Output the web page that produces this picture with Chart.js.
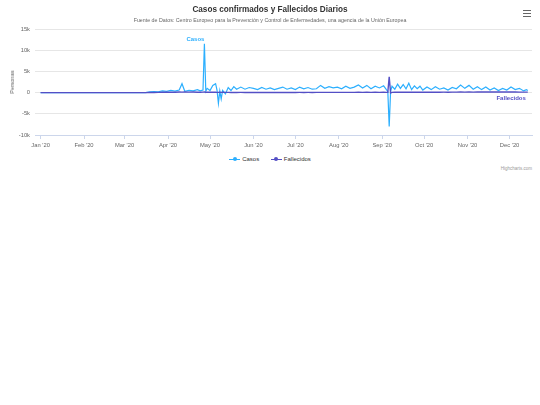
<!DOCTYPE html>
<html>
<head>
    <title>Casos confirmados y Fallecidos Diarios</title>
    <script src="https://cdn.jsdelivr.net/npm/chart.js"></script>
    <style>
        body { margin: 0; background: #fff; font-family: "Liberation Sans", Arial, sans-serif; }
        #wrap { position: relative; width: 540px; height: 175px; }
        #chart { position: absolute; left: 0; top: 0; }
        .titulo { position: absolute; left: 0; width: 540px; text-align: center; top: 5px; font-size: 8.2px; font-weight: bold; color: #333; }
        .subtitulo { position: absolute; left: 0; width: 540px; text-align: center; top: 17px; font-size: 5.3px; color: #666; }
        .ejeY { position: absolute; left: 12px; top: 82px; font-size: 5.5px; color: #666; transform: translate(-50%, -50%) rotate(-90deg); white-space: nowrap; }
        .menu { position: absolute; left: 523px; top: 10px; width: 8px; }
        .menu div { height: 1.2px; background: #666; margin-bottom: 1.6px; }
        .leyenda { position: absolute; top: 156px; left: 0; width: 540px; text-align: center; font-size: 6px; color: #333; }
        .item { display: inline-block; margin: 0 5px; }
        .simb { display: inline-block; position: relative; width: 11px; height: 6px; vertical-align: middle; margin-right: 2px; }
        .simb .l { position: absolute; left: 0; right: 0; top: 2.5px; height: 1.2px; }
        .simb .p { position: absolute; left: 3.5px; top: 1px; width: 4px; height: 4px; border-radius: 50%; }
        .credito { position: absolute; right: 8px; top: 166px; font-size: 4.5px; color: #999; }
    </style>
</head>
<body>
    <div id="wrap">
        <canvas id="chart" width="540" height="152"></canvas>
        <div class="titulo">Casos confirmados y Fallecidos Diarios</div>
        <div class="subtitulo">Fuente de Datos: Centro Europeo para la Prevención y Control de Enfermedades, una agencia de la Unión Europea</div>
        <div class="ejeY">Personas</div>
        <div class="menu"><div></div><div></div><div></div></div>
        <div class="leyenda">
            <span class="item"><span class="simb"><span class="l" style="background:#2caffe"></span><span class="p" style="background:#2caffe"></span></span>Casos</span>
            <span class="item"><span class="simb"><span class="l" style="background:#544fc5"></span><span class="p" style="background:#544fc5"></span></span>Fallecidos</span>
        </div>
        <div class="credito">Highcharts.com</div>
    </div>

    <script>
        // dia del año 2020 (0 = 1 de enero)
        const dias = [
            0, 75, 78, 81, 84, 87, 90, 93, 96, 99,
            101, 103, 106, 109, 112, 114, 116, 117, 118, 119,
            121, 123, 125, 126, 127, 128, 129, 130, 132, 134,
            136, 138, 140, 143, 146, 149, 152, 155, 158, 161,
            164, 167, 170, 173, 176, 179, 182, 185, 188, 191,
            194, 197, 200, 203, 206, 209, 212, 215, 218, 221,
            224, 227, 230, 233, 236, 239, 242, 245, 247, 248,
            249, 250, 251, 253, 255, 257, 259, 261, 263, 265,
            267, 269, 271, 273, 276, 279, 282, 285, 288, 291,
            294, 297, 300, 303, 306, 309, 312, 315, 318, 321,
            324, 327, 330, 333, 336, 339, 342, 345, 347, 348
        ];
        const casos = [
            0, 0, 150, 250, 200, 400, 300, 500, 350, 600,
            2100, 300, 500, 400, 700, 400, 600, 11500, 300, 1000,
            500, 1700, 2100, 600, -2500, 400, -1500, 500, -300, 1200,
            500, 1400, 800, 1300, 800, 1200, 1000, 700, 1200, 800,
            1100, 700, 1000, 1300, 800, 1100, 700, 1300, 900, 1200,
            800, 900, 1700, 1000, 1400, 1100, 1300, 900, 1500, 1000,
            1300, 1800, 1100, 1700, 900, 1500, 1100, 1600, 700, 300,
            -8000, 300, 1500, 800, 2000, 1000, 1900, 900, 2200, 700,
            1600, 900, 1500, 600, 1300, 700, 1400, 800, 1100, 600,
            1200, 900, 1800, 1000, 1700, 800, 1400, 700, 1300, 600,
            1100, 500, 1000, 600, 1300, 700, 1000, 400, 700, 500
        ];
        const fallecidos = [
            0, 0, 10, 30, 50, 80, 100, 120, 100, 150,
            120, 130, 110, 140, 100, 90, 120, 150, 80, 100,
            90, 120, 100, 60, 50, 80, 60, 70, 50, 60,
            40, 50, 40, 50, 40, 30, 40, 30, 40, 30,
            40, 30, 40, 30, 40, 30, 40, 50, 40, 50,
            40, 50, 60, 50, 60, 50, 60, 50, 60, 50,
            60, 70, 60, 70, 60, 70, 60, 70, 60, 50,
            3700, -100, 60, 70, 80, 70, 80, 90, 80, 90,
            80, 90, 100, 90, 100, 90, 110, 100, 110, 100,
            120, 110, 130, 120, 130, 120, 140, 130, 140, 130,
            140, 130, 140, 130, 140, 130, 120, 110, 120, 110
        ];
        const inicioMes = [0, 31, 60, 91, 121, 152, 182, 213, 244, 274, 305, 335];
        const etiquetasMes = ["Jan '20", "Feb '20", "Mar '20", "Apr '20", "May '20", "Jun '20",
            "Jul '20", "Aug '20", "Sep '20", "Oct '20", "Nov '20", "Dec '20"];
        const ticksY = [-10000, -5000, 0, 5000, 10000, 15000];

        const puntos = serie => dias.map((d, i) => ({ x: d, y: serie[i] }));

        // etiquetas de serie junto a la linea, como en el original
        const etiquetasSerie = {
            id: 'etiquetasSerie',
            afterDatasetsDraw(chart) {
                const ctx = chart.ctx;
                const x = chart.scales.x, y = chart.scales.y;
                ctx.save();
                ctx.font = 'bold 6px "Liberation Sans", Arial, sans-serif';
                // Casos sobre el maximo
                let iMax = casos.indexOf(Math.max(...casos));
                ctx.fillStyle = '#2caffe';
                ctx.textAlign = 'center';
                ctx.fillText('Casos', x.getPixelForValue(dias[iMax]) - 9, y.getPixelForValue(casos[iMax]) - 3);
                // Fallecidos al final
                let iFin = dias.length - 1;
                ctx.fillStyle = '#544fc5';
                ctx.textAlign = 'right';
                ctx.fillText('Fallecidos', x.getPixelForValue(dias[iFin]) - 2, y.getPixelForValue(fallecidos[iFin]) + 8);
                ctx.restore();
            }
        };

        const fuente = { family: '"Liberation Sans", Arial, sans-serif', size: 5.8 };

        new Chart(document.getElementById('chart').getContext('2d'), {
            type: 'line',
            data: {
                datasets: [{
                    label: 'Casos',
                    data: puntos(casos),
                    borderColor: '#2caffe',
                    borderWidth: 1.2,
                    pointRadius: 0,
                    order: 2
                }, {
                    label: 'Fallecidos',
                    data: puntos(fallecidos),
                    borderColor: '#544fc5',
                    borderWidth: 1.4,
                    pointRadius: 0,
                    order: 1
                }]
            },
            options: {
                responsive: false,
                animation: false,
                layout: { padding: { top: 29, right: 8, left: 0, bottom: 0 } },
                plugins: { legend: { display: false }, tooltip: { enabled: false } },
                scales: {
                    x: {
                        type: 'linear',
                        min: -4,
                        max: 351,
                        afterBuildTicks: s => { s.ticks = inicioMes.map(v => ({ value: v })); },
                        afterFit: s => { s.height = 17; },
                        ticks: {
                            autoSkip: false,
                            maxRotation: 0,
                            padding: 3,
                            color: '#666',
                            font: fuente,
                            callback: v => etiquetasMes[inicioMes.indexOf(v)]
                        },
                        grid: { drawOnChartArea: false, drawTicks: true, tickLength: 4, color: '#ccd6eb' },
                        border: { color: '#ccd6eb', width: 1 }
                    },
                    y: {
                        min: -10000,
                        max: 15000,
                        afterBuildTicks: s => { s.ticks = ticksY.map(v => ({ value: v })); },
                        afterFit: s => { s.width = 35; },
                        ticks: {
                            padding: 5,
                            color: '#666',
                            font: fuente,
                            callback: v => v === 0 ? '0' : (v / 1000) + 'k'
                        },
                        grid: { color: '#e6e6e6', drawTicks: false },
                        border: { display: false }
                    }
                }
            },
            plugins: [etiquetasSerie]
        });
    </script>
</body>
</html>
